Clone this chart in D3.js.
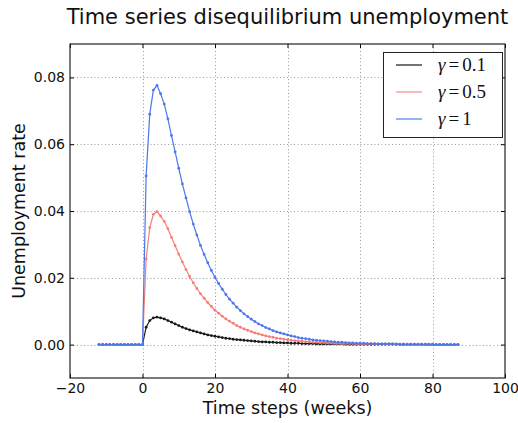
<!DOCTYPE html>
<html>
<head>
<meta charset="utf-8">
<script src="https://d3js.org/d3.v7.min.js"></script>
<style>
  body { margin: 0; background: #fff; }
  svg { display: block; }
</style>
</head>
<body>
<div id="chart"></div>
<script>
// time steps (weeks)
var weeks = [-12,-11,-10,-9,-8,-7,-6,-5,-4,-3,-2,-1,
  0,1,2,3,4,5,6,7,8,9,10,11,12,13,14,15,16,17,18,19,20,21,22,23,24,25,26,27,28,29,
  30,31,32,33,34,35,36,37,38,39,40,41,42,43,44,45,46,47,48,49,50,51,52,53,54,55,56,57,58,59,
  60,61,62,63,64,65,66,67,68,69,70,71,72,73,74,75,76,77,78,79,80,81,82,83,84,85,86,87];

var pre = [0,0,0,0,0,0,0,0,0,0,0,0];

// gamma = 0.1
var u01 = pre.concat([0,.0052,.0072,.0080,.0082,.0080,.0077,.0072,.0067,.0062,
  .0057,.0052,.0048,.0044,.0041,.0038,.0035,.0032,.0029,.0027,
  .0025,.0023,.0021,.0019,.0018,.0016,.0015,.0014,.0013,.0012,
  .0011,.0010,.0009,.0008,.0008,.0007,.0007,.0006,.0006,.0005,
  .0005,.0004,.0004,.0004,.0003,.0003,.0003,.0003,
  .0002,.0002,.0002,.0002,.0002,.0002,.0002,.0002,
  .0001,.0001,.0001,.0001,.0001,.0001,.0001,.0001,.0001,.0001,.0001,.0001,.0001,.0001,.0001,
  0,0,0,0,0,0,0,0,0,0,0,0,0,0,0,0,0]);

// gamma = 0.5
var u05 = pre.concat([0,.0256,.0350,.0390,.0398,.0385,.0369,.0347,.0321,.0296,
  .0271,.0247,.0225,.0204,.0185,.0168,.0152,.0139,.0126,.0114,
  .0103,.0094,.0085,.0077,.0070,.0064,.0057,.0052,.0047,.0043,
  .0039,.0035,.0032,.0029,.0026,.0024,.0022,.0019,.0018,.0016,
  .0015,.0013,.0012,.0011,.0010,.0009,.0008,.0007,.0007,.0006,
  .0006,.0005,.0005,.0004,.0004,.0003,.0003,.0003,.0003,.0002,
  .0002,.0002,.0002,.0002,.0002,
  .0001,.0001,.0001,.0001,.0001,.0001,.0001,.0001,
  0,0,0,0,0,0,0,0,0,0,0,0,0,0,0]);

// gamma = 1
var u1 = pre.concat([0,.0505,.0690,.0762,.0776,.0751,.0720,.0676,.0626,.0577,
  .0528,.0481,.0439,.0398,.0361,.0328,.0297,.0270,.0245,.0222,
  .0201,.0183,.0166,.0150,.0136,.0124,.0112,.0102,.0092,.0084,
  .0076,.0069,.0062,.0057,.0051,.0047,.0042,.0038,.0035,.0032,
  .0029,.0026,.0024,.0021,.0019,.0018,.0016,.0014,.0013,.0012,
  .0011,.0010,.0009,.0008,.0007,.0007,.0006,.0005,.0005,.0004,
  .0004,.0004,.0003,.0003,.0003,.0002,.0002,.0002,.0002,.0002,
  .0001,.0001,.0001,.0001,.0001,.0001,.0001,.0001,.0001,.0001,.0001,
  0,0,0,0,0,0,0]);

var seriesNames = ["0.1", "0.5", "1"];
var seriesColors = ["#1a1a1a", "#f57f78", "#4d77ea"];
var legendColors = ["#444", "#f7a3a0", "#7397f0"];
var xTicks = [-20, 0, 20, 40, 60, 80, 100];
var yTicks = [0.00, 0.02, 0.04, 0.06, 0.08];

var W = 518, H = 423;
var pLeft = 70, pRight = 505, pTop = 44, pBottom = 378;

var svg = d3.select("#chart").append("svg")
    .attr("width", W)
    .attr("height", H)
    .style("font-family", "DejaVu Sans, sans-serif");

svg.append("rect").attr("width", W).attr("height", H).attr("fill", "#fff");

var xScale = d3.scaleLinear().domain([-20, 100]).range([pLeft, pRight]);
var yScale = d3.scaleLinear().domain([-0.01, 0.09]).range([pBottom, pTop]);

// dotted grid
var grid = svg.append("g").attr("stroke", "#9a9a9a").attr("stroke-width", 1)
    .attr("stroke-dasharray", "1,2.5");
grid.selectAll(".gx").data(xTicks.slice(1, -1)).enter().append("line")
    .attr("x1", function(d) { return Math.round(xScale(d)) + 0.5; })
    .attr("x2", function(d) { return Math.round(xScale(d)) + 0.5; })
    .attr("y1", pTop).attr("y2", pBottom);
grid.selectAll(".gy").data(yTicks).enter().append("line")
    .attr("y1", function(d) { return Math.round(yScale(d)) + 0.5; })
    .attr("y2", function(d) { return Math.round(yScale(d)) + 0.5; })
    .attr("x1", pLeft).attr("x2", pRight);

// series
var data = [u01, u05, u1];
var line = d3.line()
    .x(function(d, i) { return xScale(weeks[i]); })
    .y(function(d) { return yScale(d); });

data.forEach(function(vals, k) {
    var g = svg.append("g");
    g.append("path")
        .attr("d", line(vals))
        .attr("fill", "none")
        .attr("stroke", seriesColors[k])
        .attr("stroke-width", 1.2);
    g.selectAll("circle").data(vals).enter().append("circle")
        .attr("cx", function(d, i) { return xScale(weeks[i]); })
        .attr("cy", function(d) { return yScale(d); })
        .attr("r", 1.4)
        .attr("fill", seriesColors[k]);
});

// axes, ticks inside on all four sides
svg.append("g")
    .attr("transform", "translate(0," + pBottom + ")")
    .call(d3.axisBottom(xScale).tickValues(xTicks).tickSizeInner(-4).tickSizeOuter(0)
        .tickPadding(5).tickFormat(d3.format("d")));
svg.append("g")
    .attr("transform", "translate(" + pLeft + ",0)")
    .call(d3.axisLeft(yScale).tickValues(yTicks).tickSizeInner(-4).tickSizeOuter(0)
        .tickPadding(5).tickFormat(d3.format(".2f")));
svg.append("g")
    .attr("transform", "translate(0," + pTop + ")")
    .call(d3.axisTop(xScale).tickValues(xTicks).tickSizeInner(-4).tickSizeOuter(0).tickFormat(""));
svg.append("g")
    .attr("transform", "translate(" + pRight + ",0)")
    .call(d3.axisRight(yScale).tickValues(yTicks).tickSizeInner(-4).tickSizeOuter(0).tickFormat(""));

svg.selectAll(".domain").remove();
svg.selectAll(".tick line").attr("stroke", "#000");
svg.selectAll(".tick text")
    .attr("fill", "#111")
    .style("font-size", "14px")
    .style("font-family", "DejaVu Sans, sans-serif");

// frame
svg.append("rect")
    .attr("x", pLeft).attr("y", pTop)
    .attr("width", pRight - pLeft).attr("height", pBottom - pTop)
    .attr("fill", "none").attr("stroke", "#222").attr("stroke-width", 1.2);

// title and labels
svg.append("text")
    .attr("x", (pLeft + pRight) / 2).attr("y", 24)
    .attr("text-anchor", "middle")
    .style("font-size", "21px")
    .attr("fill", "#111")
    .text("Time series disequilibrium unemployment");

svg.append("text")
    .attr("x", (pLeft + pRight) / 2).attr("y", 414)
    .attr("text-anchor", "middle")
    .style("font-size", "17.5px")
    .attr("fill", "#111")
    .text("Time steps (weeks)");

svg.append("text")
    .attr("transform", "translate(25," + ((pTop + pBottom) / 2) + ") rotate(-90)")
    .attr("text-anchor", "middle")
    .style("font-size", "17.5px")
    .attr("fill", "#111")
    .text("Unemployment rate");

// legend
var lg = svg.append("g");
lg.append("rect")
    .attr("x", 383.5).attr("y", 52.5).attr("width", 119).attr("height", 85)
    .attr("fill", "#fff").attr("stroke", "#222").attr("stroke-width", 1);

seriesNames.forEach(function(name, k) {
    var yy = 65 + k * 27;
    lg.append("line")
        .attr("x1", 396).attr("x2", 422)
        .attr("y1", yy).attr("y2", yy)
        .attr("stroke", legendColors[k]).attr("stroke-width", 1.5);
    var t = lg.append("text")
        .attr("x", 438).attr("y", yy + 6)
        .style("font-family", "Liberation Serif, serif")
        .style("font-size", "19px")
        .attr("fill", "#111");
    t.append("tspan").style("font-style", "italic").text("γ");
    t.append("tspan").attr("dx", 3).text("=");
    t.append("tspan").attr("dx", 3).text(name);
});
</script>
</body>
</html>
